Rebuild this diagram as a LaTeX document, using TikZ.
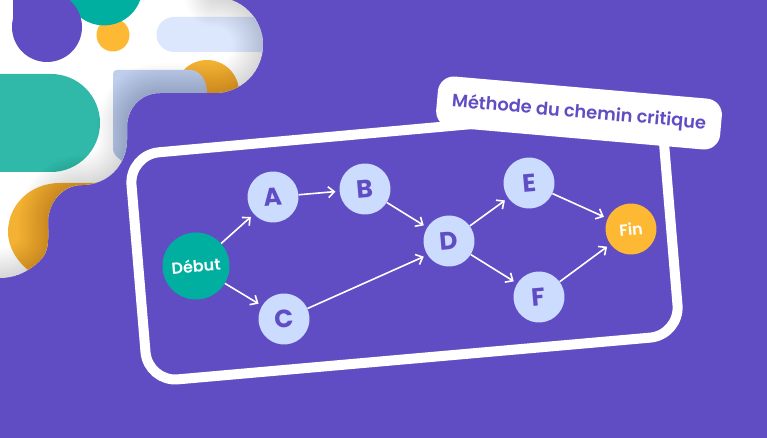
\documentclass[tikz,border=0pt]{standalone}
\usepackage{fontspec}
\setmainfont{Poppins}[BoldFont={Poppins SemiBold}]
\newfontfamily\grasse{Poppins Bold}
\usetikzlibrary{arrows.meta}
\definecolor{violet}{HTML}{604DC4}
\definecolor{bleu}{HTML}{CCDCFF}
\definecolor{sarcelle}{HTML}{00AFA0}
\definecolor{jaune}{HTML}{FDB933}
\definecolor{ambre}{HTML}{F3B233}
\definecolor{vert}{HTML}{30B8A8}
\definecolor{ciel}{HTML}{DCE6FD}
\definecolor{lavande}{HTML}{C0CEEE}
\tikzset{
  etape/.style={circle, fill=bleu, text=violet, minimum size=51pt, inner sep=0pt, rotate=5, font=\fontsize{25}{25}\selectfont\grasse},
  borne/.style={circle, text=white, inner sep=0pt, rotate=5, font=\fontsize{16}{16}\selectfont\bfseries},
  fleche/.style={white, line width=1.6pt, -{Straight Barb[length=6pt,width=11pt]}, shorten >=4pt},
}
% bord libre de la tache blanche
\def\blobedge{(215,-3) arc[start angle=-90,end angle=90,radius=48] -- (160,93)
  .. controls (141,93) and (127,108) .. (127,127) -- (127,140)
  .. controls (127,148) and (125,155) .. (122,161)
  .. controls (115,175) and (100,185) .. (82,185)
  .. controls (62,185) and (48,203) .. (48,222)
  .. controls (48,230) and (49,235) .. (48,240)
  .. controls (48,255) and (40,262) .. (28,270)
  .. controls (20,275) and (10,278) .. (0,278)}
\begin{document}
\begin{tikzpicture}[x=1pt, y=-1pt]
\fill[violet] (0,0) rectangle (767,438);
\useasboundingbox (0,0) rectangle (767,438);
\begin{scope}
\clip (-40,-3) -- \blobedge -- (-40,278) -- cycle;
\fill[white] (-40,-40) rectangle (300,300);
\fill[jaune] (113,35) circle[radius=16.5];
\fill[sarcelle] (104,-13) circle[radius=38.4];
\fill[violet] (47,27) circle[radius=35];
\fill[violet] (13,-5) rectangle (47,27);
\fill[ciel] (300,17) -- (174,17) arc[start angle=-90,end angle=-270,radius=17.5] -- (300,52) -- cycle;
\fill[ambre] (207,92) circle[radius=32];
\fill[lavande] (113,74) .. controls (113,71) and (115,70) .. (117,70) -- (190,70)
  .. controls (200,70) and (207,80) .. (207,93) -- (207,95) -- (160,161) -- (122,161)
  .. controls (118,158) and (114,155) .. (113,150) -- cycle;
\fill[vert] (-5,74) -- (51,74) arc[start angle=-90,end angle=90,radius=49] -- (-5,172) -- cycle;
\fill[ambre] (97,183) -- (60,183) .. controls (30,183) and (8,205) .. (8,232)
  .. controls (8,248) and (18,262) .. (28,270) -- (60,270) -- cycle;
\foreach \w in {3,6,...,60} {
\draw[black, opacity=.006, line width=\w pt, line cap=round] \blobedge;
}
\end{scope}
\coordinate (hautG) at (129,155);
\coordinate (hautD) at (661,107);
\coordinate (basD) at (680,335);
\coordinate (basG) at (148,382);
\draw[white, line width=10pt, rounded corners=30pt] (hautG) -- (hautD) -- (basD) -- (basG) -- cycle;
\node[fill=white, text=violet, rotate=-5, rounded corners=16pt, minimum width=285pt, minimum height=51pt, inner sep=0pt, font=\fontsize{17.8}{18}\selectfont\bfseries] (titre) at (579,113) {\raisebox{-3pt}{Méthode du chemin critique}};
\node[borne, fill=sarcelle, minimum size=67pt] (debut) at (196,266) {Début};
\node[borne, fill=jaune, minimum size=51pt] (fin) at (631,229) {Fin};
\node[etape] (a) at (273,197) {A};
\node[etape] (b) at (365,189) {B};
\node[etape] (c) at (284,319) {C};
\node[etape] (d) at (449,241) {D};
\node[etape] (e) at (529,183) {E};
\node[etape] (f) at (539,297) {F};
\draw[fleche] (debut) -- (a);
\draw[fleche] (debut) -- (c);
\draw[fleche] (a) -- (b);
\draw[fleche] (b) -- (d);
\draw[fleche] (c) -- (d.208);
\draw[fleche] (d) -- (e);
\draw[fleche] (d) -- (f);
\draw[fleche] (e) -- (fin);
\draw[fleche] (f) -- (fin);
\end{tikzpicture}
\end{document}
